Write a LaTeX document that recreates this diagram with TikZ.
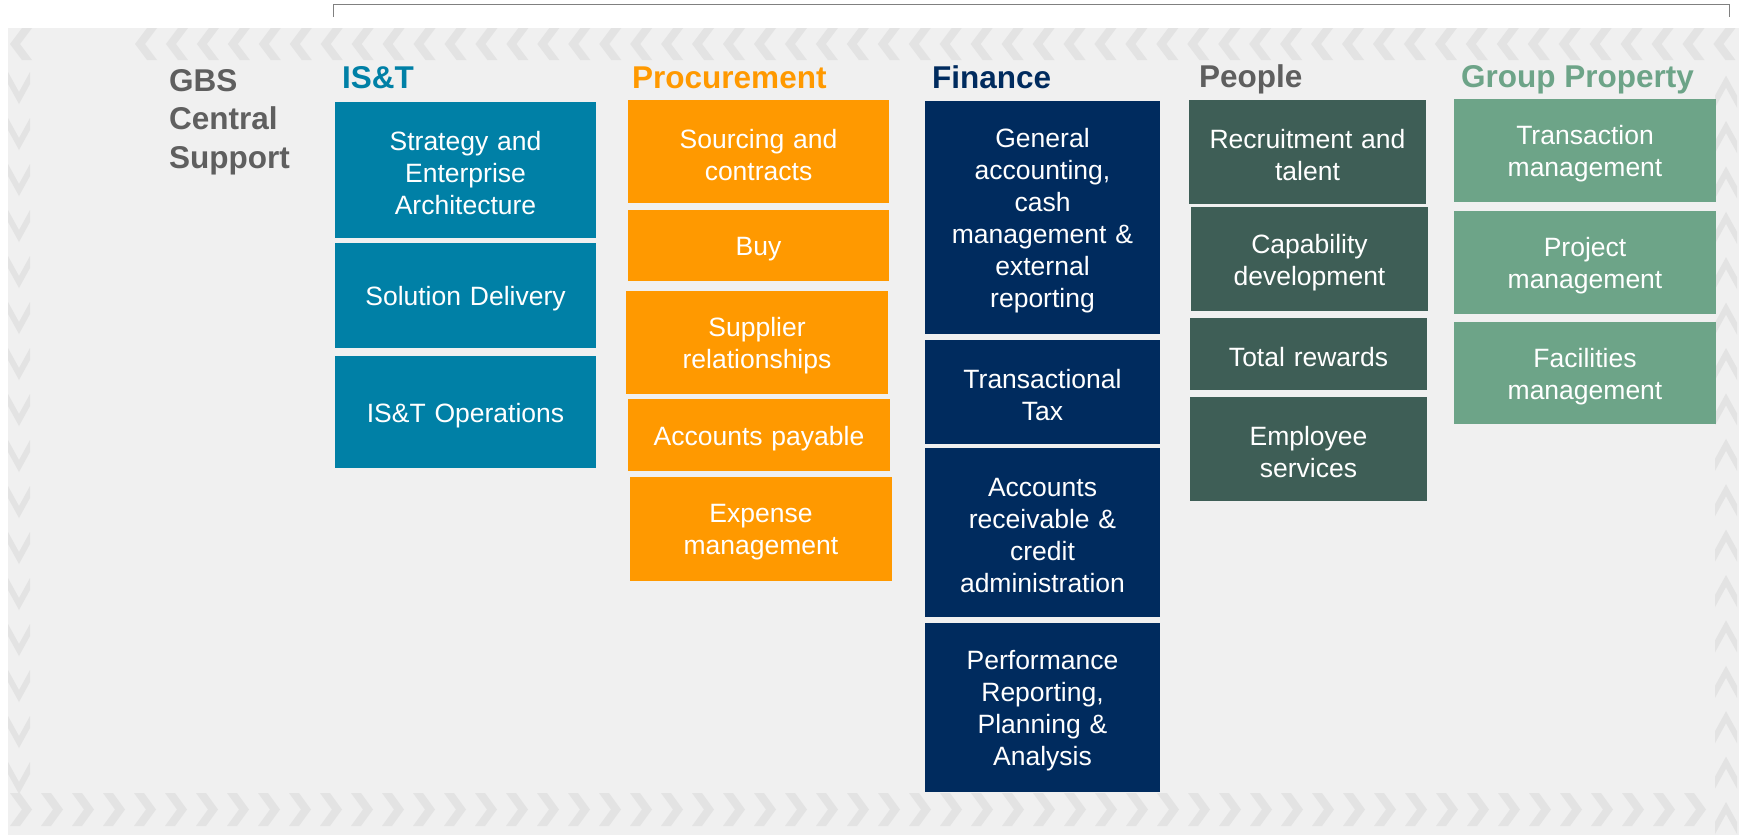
\documentclass[tikz,border=0pt]{standalone}
\usepackage{fontspec}
\setmainfont{Liberation Sans}
\definecolor{bgc}{HTML}{F0F0F0}
\definecolor{chev}{HTML}{E3E3E3}
\definecolor{istc}{HTML}{0080A6}
\definecolor{proc}{HTML}{FF9900}
\definecolor{finc}{HTML}{002B5E}
\definecolor{pplc}{HTML}{3E5E56}
\definecolor{gpc}{HTML}{6DA488}
\definecolor{hdgrey}{HTML}{5F5F5F}
\definecolor{brk}{HTML}{808080}
\newcommand\bx[7]{%
  \node[box, fill=#6, minimum width={#4-#2}, minimum height={#5-#3}]
    (#1) at ({(#2+#4)/2},{(#3+#5)/2}) {};
  \node[boxtext, text width={#4-#2-12}] (#1t) at ([yshift=-3.5pt]#1.center) {#7};}
\begin{document}
\begin{tikzpicture}[x=1pt,y=-1pt,
  box/.style={rectangle, inner sep=0pt, outer sep=0pt},
  boxtext/.style={inner sep=0pt, align=center, text=white,
    font=\fontsize{26.5}{32}\selectfont},
  hdr/.style={anchor=base west, inner sep=0pt, font=\bfseries\fontsize{31.5}{38.5}\selectfont},
  chevron/.style={fill=chev, draw=none}]
\useasboundingbox (0,0) rectangle (1739,835);
\fill[white] (0,0) rectangle (1739,835);
% background panel
\fill[bgc] (8,28) rectangle (1739,835);
% top bracket
\draw[brk, line width=1pt] (333,17) -- (333,4) -- (1729,4) -- (1729,17);
% top row chevrons pointing left
\fill[chevron] (10,44) -- (22,28) -- (32,28) -- (20,44) -- (32,60) -- (22,60) -- cycle;
\foreach \k in {0,...,51} {
  \pgfmathsetmacro\xx{135+30.95*\k}
  \fill[chevron] (\xx,44) -- (\xx+12,28) -- (\xx+22,28) -- (\xx+10,44) -- (\xx+22,60) -- (\xx+12,60) -- cycle;
}
% bottom row chevrons pointing right
\foreach \k in {0,...,54} {
  \pgfmathsetmacro\xx{10+31*\k}
  \fill[chevron] (\xx,793) -- (\xx+10,793) -- (\xx+22,809.5) -- (\xx+10,826) -- (\xx,826) -- (\xx+12,809.5) -- cycle;
}
% left column chevrons pointing down
\foreach \k in {0,...,15} {
  \pgfmathsetmacro\yy{72+46*\k}
  \fill[chevron] (8,\yy) -- (19,\yy+20) -- (30,\yy) -- (30,\yy+12) -- (19,\yy+32) -- (8,\yy+12) -- cycle;
}
% right column chevrons pointing up
\foreach \k in {0,...,16} {
  \pgfmathsetmacro\yy{802-45.4*\k}
  \fill[chevron] (1715,\yy+32) -- (1726,\yy+12) -- (1737,\yy+32) -- (1737,\yy+20) -- (1726,\yy) -- (1715,\yy+20) -- cycle;
}
% headings
\node[hdr, text=hdgrey] (gbs1) at (169,91) {GBS};
\node[hdr, text=hdgrey] (gbs2) at (169,129.5) {Central};
\node[hdr, text=hdgrey] (gbs3) at (169,168) {Support};
\node[hdr, text=istc] (hist) at (342,88) {IS\&T};
\node[hdr, text=proc] (hproc) at (632,88) {Procurement};
\node[hdr, text=finc] (hfin) at (932,88) {Finance};
\node[hdr, text=hdgrey] (hppl) at (1199,87) {People};
\node[hdr, text=gpc] (hgp) at (1461,87) {Group Property};
% IS&T
\bx{a1}{335}{102}{596}{238}{istc}{Strategy and\\Enterprise\\Architecture}
\bx{a2}{335}{243}{596}{348}{istc}{Solution Delivery}
\bx{a3}{335}{356}{596}{468}{istc}{IS\&T Operations}
% Procurement
\bx{b1}{628}{100}{889}{203}{proc}{Sourcing and\\contracts}
\bx{b2}{628}{210}{889}{281}{proc}{Buy}
\bx{b3}{626}{291}{888}{394}{proc}{Supplier\\relationships}
\bx{b4}{628}{399}{890}{471}{proc}{Accounts payable}
\bx{b5}{630}{477}{892}{581}{proc}{Expense\\management}
% Finance
\bx{c1}{925}{101}{1160}{334}{finc}{General\\accounting,\\cash\\management \&\\external\\reporting}
\bx{c2}{925}{340}{1160}{444}{finc}{Transactional\\Tax}
\bx{c3}{925}{448}{1160}{617}{finc}{Accounts\\receivable \&\\credit\\administration}
\bx{c4}{925}{623}{1160}{792}{finc}{Performance\\Reporting,\\Planning \&\\Analysis}
% People
\bx{d1}{1189}{100}{1426}{204}{pplc}{Recruitment and\\talent}
\bx{d2}{1191}{207}{1428}{311}{pplc}{Capability\\development}
\bx{d3}{1190}{318}{1427}{390}{pplc}{Total rewards}
\bx{d4}{1190}{397}{1427}{501}{pplc}{Employee\\services}
% Group Property
\bx{e1}{1454}{99}{1716}{202}{gpc}{Transaction\\management}
\bx{e2}{1454}{211}{1716}{314}{gpc}{Project\\management}
\bx{e3}{1454}{322}{1716}{424}{gpc}{Facilities\\management}
\end{tikzpicture}
\end{document}
